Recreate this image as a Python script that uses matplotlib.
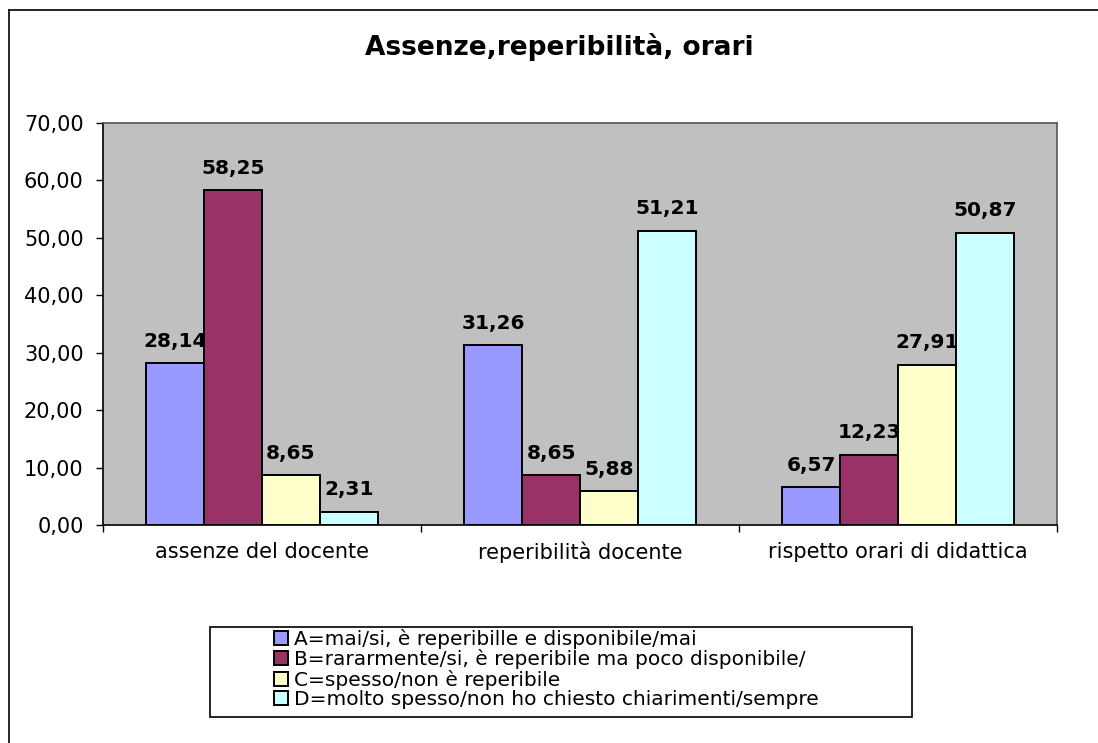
import matplotlib
matplotlib.use("Agg")
import matplotlib.pyplot as plt
from matplotlib.patches import Rectangle
from matplotlib.lines import Line2D
import numpy as np

# Dati del grafico
categorie = ["assenze del docente", "reperibilità docente", "rispetto orari di didattica"]
serie_nomi = [
    "A=mai/si, è reperibille e disponibile/mai",
    "B=rararmente/si, è reperibile ma poco disponibile/",
    "C=spesso/non è reperibile",
    "D=molto spesso/non ho chiesto chiarimenti/sempre",
]
valori_A = [28.14, 31.26, 6.57]
valori_B = [58.25, 8.65, 12.23]
valori_C = [8.65, 5.88, 27.91]
valori_D = [2.31, 51.21, 50.87]
colori = ["#9999FF", "#993366", "#FFFFCC", "#CCFFFF"]

W, H = 1098, 743
fig = plt.figure(figsize=(W / 100, H / 100), dpi=100)
fig.patch.set_facecolor("white")

# bordo esterno del grafico (solo alto e sinistra visibili)
fig.add_artist(Line2D([9 / W, 1.0], [1 - 10 / H, 1 - 10 / H], color="black", lw=1.2))
fig.add_artist(Line2D([9 / W, 9 / W], [1 - 10 / H, 0.0], color="black", lw=1.2))

ax = fig.add_axes([103 / W, 1 - 525 / H, (1057 - 103) / W, (525 - 123) / H])
ax.set_facecolor("#C0C0C0")

x = np.arange(len(categorie))
larghezza = 1 / 5.5
tutte = [valori_A, valori_B, valori_C, valori_D]
for i, vals in enumerate(tutte):
    pos = x + (i - 1.5) * larghezza
    bars = ax.bar(pos, vals, width=larghezza, color=colori[i], edgecolor="black",
                  linewidth=1.4, label=serie_nomi[i], zorder=3)
    for b, v in zip(bars, vals):
        ax.annotate(f"{v:.2f}".replace(".", ","),
                    (b.get_x() + b.get_width() / 2, b.get_height()),
                    xytext=(0, 9), textcoords="offset points",
                    ha="center", va="bottom", fontsize=14.5, fontweight="bold")

ax.set_xlim(-0.5, 2.5)
ax.set_ylim(0, 70)
ax.set_yticks(np.arange(0, 71, 10))
ax.set_yticklabels([f"{v:.2f}".replace(".", ",") for v in np.arange(0, 71, 10)])
ax.tick_params(axis="y", direction="out", length=5, width=1, pad=9, labelsize=15)

ax.set_xticks(x)
ax.set_xticklabels(categorie)
ax.tick_params(axis="x", which="major", length=0, pad=12, labelsize=15)
ax.set_xticks([-0.5, 0.5, 1.5, 2.5], minor=True)
ax.tick_params(axis="x", which="minor", direction="out", length=5, width=1)

for lato in ["left", "bottom"]:
    ax.spines[lato].set_color("black")
    ax.spines[lato].set_linewidth(1.2)
for lato in ["top", "right"]:
    ax.spines[lato].set_color("#555555")
    ax.spines[lato].set_linewidth(1.2)

fig.text(559 / W, 1 - 47 / H, "Assenze,reperibilità, orari",
         ha="center", va="center", fontsize=19, fontweight="bold")

# riquadro della legenda
fig.add_artist(Rectangle((210 / W, 1 - 717 / H), (912 - 210) / W, (717 - 627) / H,
                         transform=fig.transFigure, facecolor="white",
                         edgecolor="black", lw=1.2))
handles, labels = ax.get_legend_handles_labels()
leg = fig.legend(handles, labels, loc="upper left",
                 bbox_to_anchor=(262 / W, 1 - 617 / H), frameon=False,
                 fontsize=14.5, handlelength=0.7, handleheight=0.7,
                 handletextpad=0.3, labelspacing=0.02, borderpad=0.1)

fig.savefig("out.png", dpi=100)
